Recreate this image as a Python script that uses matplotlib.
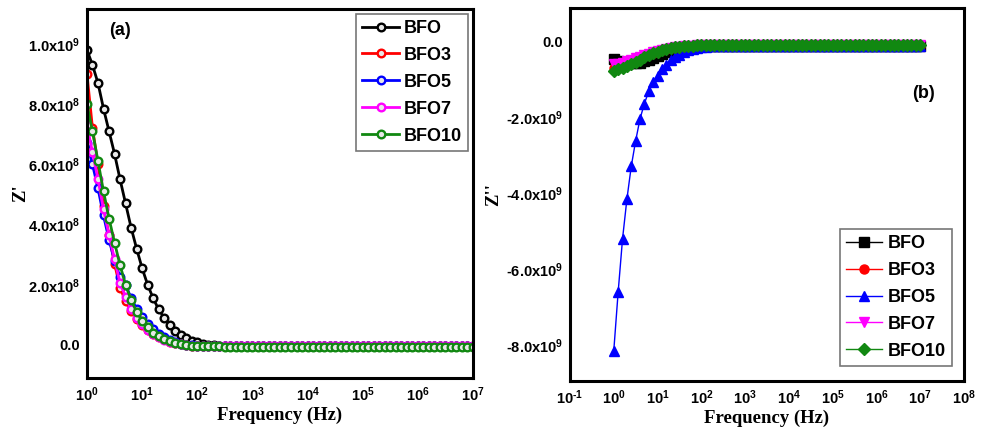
import numpy as np
import matplotlib.pyplot as plt

plt.rcParams['font.family'] = 'Liberation Sans'
plt.rcParams['font.weight'] = 'bold'
plt.rcParams['mathtext.fontset'] = 'custom'
plt.rcParams['mathtext.rm'] = 'Liberation Sans:bold'
plt.rcParams['mathtext.default'] = 'regular'

# frequency sweep, 10 points per decade, 1 Hz .. 10 MHz
freq = np.logspace(0, 7, 71)

samples = ['BFO', 'BFO3', 'BFO5', 'BFO7', 'BFO10']
colors = ['black', '#ff0000', '#0000ff', '#ff00ff', '#118811']

# real part Z' (x1e9 ohm)
zr_bfo = [0.98, 0.93, 0.87, 0.785, 0.71, 0.635, 0.55, 0.47, 0.39, 0.32,
          0.255, 0.20, 0.155, 0.118, 0.09, 0.066, 0.047, 0.032, 0.022, 0.014,
          0.008, 0.004, 0.001, -0.001, -0.002, -0.003, -0.004, -0.004, -0.005, -0.005,
          -0.005, -0.005, -0.005, -0.005, -0.005, -0.005, -0.005, -0.005, -0.005, -0.005,
          -0.005, -0.005, -0.005, -0.005, -0.005, -0.005, -0.005, -0.005, -0.005, -0.005,
          -0.005, -0.005, -0.005, -0.005, -0.005, -0.005, -0.005, -0.005, -0.005, -0.005,
          -0.005, -0.005, -0.005, -0.005, -0.005, -0.005, -0.005, -0.005, -0.005, -0.005,
          -0.005]
zr_bfo3 = [0.90, 0.72, 0.60, 0.46, 0.365, 0.27, 0.19, 0.145, 0.112, 0.086,
           0.066, 0.049, 0.036, 0.026, 0.018, 0.011, 0.006, 0.002, 0.0, -0.002,
           -0.003, -0.004, -0.005, -0.005, -0.005, -0.005, -0.005, -0.005, -0.005, -0.005,
           -0.005, -0.005, -0.005, -0.005, -0.005, -0.005, -0.005, -0.005, -0.005, -0.005,
           -0.005, -0.005, -0.005, -0.005, -0.005, -0.005, -0.005, -0.005, -0.005, -0.005,
           -0.005, -0.005, -0.005, -0.005, -0.005, -0.005, -0.005, -0.005, -0.005, -0.005,
           -0.005, -0.005, -0.005, -0.005, -0.005, -0.005, -0.005, -0.005, -0.005, -0.005,
           -0.005]
zr_bfo5 = [0.67, 0.60, 0.52, 0.43, 0.35, 0.28, 0.225, 0.20, 0.155, 0.12,
           0.092, 0.07, 0.052, 0.037, 0.025, 0.016, 0.009, 0.004, 0.001, -0.001,
           -0.003, -0.004, -0.005, -0.005, -0.005, -0.005, -0.005, -0.005, -0.005, -0.005,
           -0.005, -0.005, -0.005, -0.005, -0.005, -0.005, -0.005, -0.005, -0.005, -0.005,
           -0.005, -0.005, -0.005, -0.005, -0.005, -0.005, -0.005, -0.005, -0.005, -0.005,
           -0.005, -0.005, -0.005, -0.005, -0.005, -0.005, -0.005, -0.005, -0.005, -0.005,
           -0.005, -0.005, -0.005, -0.005, -0.005, -0.005, -0.005, -0.005, -0.005, -0.005,
           -0.005]
zr_bfo7 = [0.73, 0.64, 0.55, 0.45, 0.365, 0.285, 0.205, 0.16, 0.12, 0.09,
           0.068, 0.05, 0.036, 0.025, 0.017, 0.01, 0.005, 0.002, 0.0, -0.002,
           -0.003, -0.004, -0.005, -0.005, -0.005, -0.005, -0.005, -0.005, -0.005, -0.005,
           -0.005, -0.005, -0.005, -0.005, -0.005, -0.005, -0.005, -0.005, -0.005, -0.005,
           -0.005, -0.005, -0.005, -0.005, -0.005, -0.005, -0.005, -0.005, -0.005, -0.005,
           -0.005, -0.005, -0.005, -0.005, -0.005, -0.005, -0.005, -0.005, -0.005, -0.005,
           -0.005, -0.005, -0.005, -0.005, -0.005, -0.005, -0.005, -0.005, -0.005, -0.005,
           -0.005]
zr_bfo10 = [0.80, 0.71, 0.61, 0.51, 0.42, 0.34, 0.265, 0.20, 0.15, 0.11,
            0.08, 0.058, 0.041, 0.029, 0.019, 0.012, 0.006, 0.002, 0.0, -0.002,
            -0.003, -0.004, -0.005, -0.005, -0.005, -0.006, -0.006, -0.006, -0.006, -0.006,
            -0.006, -0.006, -0.006, -0.006, -0.006, -0.006, -0.006, -0.006, -0.006, -0.006,
            -0.006, -0.006, -0.006, -0.006, -0.006, -0.006, -0.006, -0.006, -0.006, -0.006,
            -0.006, -0.006, -0.006, -0.006, -0.006, -0.006, -0.006, -0.006, -0.006, -0.006,
            -0.006, -0.006, -0.006, -0.006, -0.006, -0.006, -0.006, -0.006, -0.006, -0.006,
            -0.006]

# imaginary part Z'' (x1e9 ohm)
zi_bfo = [-0.45, -0.50, -0.53, -0.55, -0.56, -0.56, -0.55, -0.52, -0.48, -0.43,
          -0.38, -0.33, -0.28, -0.24, -0.21, -0.18, -0.16, -0.14, -0.13, -0.12,
          -0.11, -0.105, -0.10, -0.10, -0.10, -0.10, -0.10, -0.10, -0.10, -0.10,
          -0.10, -0.10, -0.10, -0.10, -0.10, -0.10, -0.10, -0.10, -0.10, -0.10,
          -0.10, -0.10, -0.10, -0.10, -0.10, -0.10, -0.10, -0.10, -0.10, -0.10,
          -0.10, -0.10, -0.10, -0.10, -0.10, -0.10, -0.10, -0.10, -0.10, -0.10,
          -0.10, -0.10, -0.10, -0.10, -0.10, -0.10, -0.10, -0.10, -0.10, -0.10,
          -0.10]
zi_bfo3 = [-0.68, -0.65, -0.61, -0.57, -0.53, -0.48, -0.43, -0.38, -0.33, -0.29,
           -0.25, -0.21, -0.18, -0.16, -0.14, -0.13, -0.12, -0.11, -0.10, -0.10,
           -0.10, -0.10, -0.10, -0.10, -0.10, -0.10, -0.10, -0.10, -0.10, -0.10,
           -0.10, -0.10, -0.10, -0.10, -0.10, -0.10, -0.10, -0.10, -0.10, -0.10,
           -0.10, -0.10, -0.10, -0.10, -0.10, -0.10, -0.10, -0.10, -0.10, -0.10,
           -0.10, -0.10, -0.10, -0.10, -0.10, -0.10, -0.10, -0.10, -0.10, -0.10,
           -0.10, -0.10, -0.10, -0.10, -0.10, -0.10, -0.10, -0.10, -0.10, -0.10,
           -0.10]
zi_bfo5 = [-8.15, -6.6, -5.2, -4.15, -3.28, -2.61, -2.03, -1.63, -1.30, -1.07,
           -0.90, -0.73, -0.61, -0.49, -0.41, -0.34, -0.28, -0.23, -0.19, -0.16,
           -0.14, -0.13, -0.12, -0.115, -0.11, -0.11, -0.11, -0.11, -0.11, -0.11,
           -0.11, -0.11, -0.11, -0.11, -0.11, -0.11, -0.11, -0.11, -0.11, -0.11,
           -0.11, -0.11, -0.11, -0.11, -0.11, -0.11, -0.11, -0.11, -0.11, -0.11,
           -0.11, -0.11, -0.11, -0.11, -0.11, -0.11, -0.11, -0.11, -0.11, -0.11,
           -0.11, -0.11, -0.11, -0.11, -0.11, -0.11, -0.11, -0.11, -0.11, -0.11,
           -0.11]
zi_bfo7 = [-0.60, -0.58, -0.55, -0.52, -0.48, -0.44, -0.40, -0.36, -0.32, -0.28,
           -0.24, -0.21, -0.18, -0.16, -0.14, -0.13, -0.12, -0.11, -0.10, -0.095,
           -0.095, -0.095, -0.095, -0.095, -0.095, -0.095, -0.095, -0.095, -0.095, -0.095,
           -0.095, -0.095, -0.095, -0.095, -0.095, -0.095, -0.095, -0.095, -0.095, -0.095,
           -0.095, -0.095, -0.095, -0.095, -0.095, -0.095, -0.095, -0.095, -0.095, -0.095,
           -0.095, -0.095, -0.095, -0.095, -0.095, -0.095, -0.095, -0.095, -0.095, -0.095,
           -0.095, -0.095, -0.095, -0.095, -0.095, -0.095, -0.095, -0.095, -0.095, -0.095,
           -0.095]
zi_bfo10 = [-0.76, -0.72, -0.68, -0.63, -0.58, -0.53, -0.47, -0.41, -0.35, -0.30,
            -0.26, -0.22, -0.19, -0.17, -0.15, -0.13, -0.12, -0.11, -0.10, -0.095,
            -0.095, -0.095, -0.095, -0.095, -0.095, -0.095, -0.095, -0.095, -0.095, -0.095,
            -0.095, -0.095, -0.095, -0.095, -0.095, -0.095, -0.095, -0.095, -0.095, -0.095,
            -0.095, -0.095, -0.095, -0.095, -0.095, -0.095, -0.095, -0.095, -0.095, -0.095,
            -0.095, -0.095, -0.095, -0.095, -0.095, -0.095, -0.095, -0.095, -0.095, -0.095,
            -0.095, -0.095, -0.095, -0.095, -0.095, -0.095, -0.095, -0.095, -0.095, -0.095,
            -0.095]

z_real = [zr_bfo, zr_bfo3, zr_bfo5, zr_bfo7, zr_bfo10]
z_imag = [zi_bfo, zi_bfo3, zi_bfo5, zi_bfo7, zi_bfo10]
imag_markers = ['s', 'o', '^', 'v', 'D']

left_yticks = [0.0, 0.2e9, 0.4e9, 0.6e9, 0.8e9, 1.0e9]
left_ylabels = ['0.0', '2.0x10$^{8}$', '4.0x10$^{8}$', '6.0x10$^{8}$', '8.0x10$^{8}$', '1.0x10$^{9}$']
right_yticks = [0.0, -2e9, -4e9, -6e9, -8e9]
right_ylabels = ['0.0', '-2.0x10$^{9}$', '-4.0x10$^{9}$', '-6.0x10$^{9}$', '-8.0x10$^{9}$']

serif = {'family': 'Liberation Serif', 'weight': 'bold', 'size': 13.5}

fig = plt.figure(figsize=(9.86, 4.30), dpi=100)
ax1 = fig.add_axes([0.0882, 0.1209, 0.3915, 0.8581])
ax2 = fig.add_axes([0.5781, 0.114, 0.3996, 0.8674])

# (a) real part
for name, c, vals in zip(samples, colors, z_real):
    ax1.plot(freq, np.array(vals) * 1e9, '-o', color=c, lw=2, ms=5.5,
             mfc='#e8e8e8', mec=c, mew=1.7, label=name)
ax1.set_xscale('log')
ax1.set_xlim(1, 1e7)
ax1.set_ylim(-1.1e8, 1.116e9)
ax1.set_xticks([10.0 ** k for k in range(0, 8)])
ax1.set_xticklabels(['10$^{%d}$' % k for k in range(0, 8)])
ax1.set_yticks(left_yticks)
ax1.set_yticklabels(left_ylabels)
ax1.set_ylabel("Z'", fontdict=serif, labelpad=-1)
ax1.text(0.085, 0.943, '(a)', transform=ax1.transAxes, ha='center', va='center',
         fontsize=13, fontweight='bold')
leg1 = ax1.legend(loc='upper right', fontsize=13, handlelength=2.0,
                  fancybox=False, borderaxespad=0.25, labelspacing=0.55,
                  handletextpad=0.3, borderpad=0.35)

# (b) imaginary part
for name, c, m, vals in zip(samples, colors, imag_markers, z_imag):
    ax2.plot(freq, np.array(vals) * 1e9, '-', marker=m, color=c, lw=1, ms=6.5,
             label=name)
ax2.set_xscale('log')
ax2.set_xlim(1e-1, 1e8)
ax2.set_ylim(-8.95e9, 0.89e9)
ax2.set_xticks([10.0 ** k for k in range(-1, 9)])
ax2.set_xticklabels(['10$^{\\text{%d}}$' % k for k in range(-1, 9)])
ax2.set_yticks(right_yticks)
ax2.set_yticklabels(right_ylabels)
ax2.set_ylabel("Z''", fontdict=serif, labelpad=3)
ax2.text(0.896, 0.772, '(b)', transform=ax2.transAxes, ha='center', va='center',
         fontsize=13, fontweight='bold')
leg2 = ax2.legend(loc='lower right', bbox_to_anchor=(0.97, 0.04), fontsize=13,
                  handlelength=2.0, fancybox=False, borderaxespad=0,
                  labelspacing=0.55, handletextpad=0.3, borderpad=0.35)

for ax, leg in ((ax1, leg1), (ax2, leg2)):
    ax.set_xlabel('Frequency (Hz)', fontdict=serif, labelpad=2)
    ax.minorticks_off()
    ax.tick_params(which='both', direction='in', length=0, labelsize=10.5, pad=5)
    for s in ax.spines.values():
        s.set_linewidth(2.2)
    leg.get_frame().set_edgecolor('#555555')
    leg.get_frame().set_linewidth(1.2)

fig.savefig('out.png', dpi=100)
